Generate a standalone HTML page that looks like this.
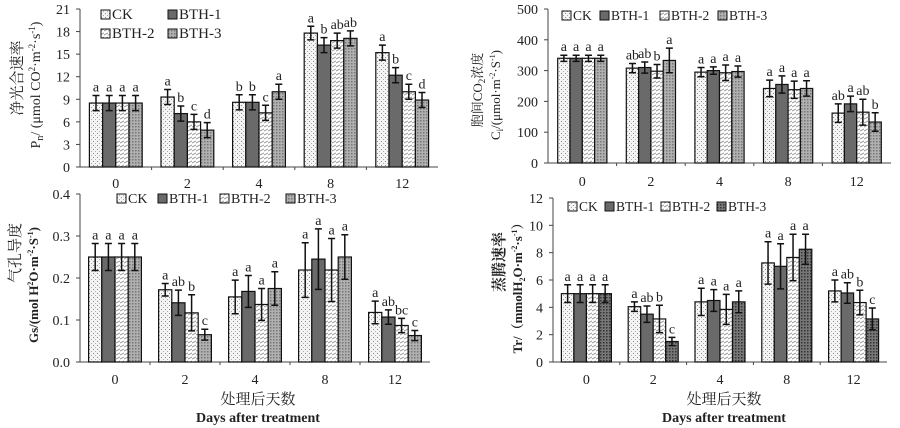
<!DOCTYPE html>
<html><head><meta charset="utf-8">
<style>
html,body{margin:0;padding:0;background:#fff;}
svg{display:block;font-family:"Liberation Serif","Noto Serif CJK SC",serif;}
</style></head>
<body>
<svg id="chart" width="900" height="428" viewBox="0 0 900 428" xmlns="http://www.w3.org/2000/svg">
<defs>
<pattern id="pDots" width="4" height="4" patternUnits="userSpaceOnUse"><rect width="4" height="4" fill="#f4f4f4"/><rect x="1" y="1" width="1" height="1" fill="#888"/><rect x="3" y="3" width="1" height="1" fill="#aaa"/></pattern>
<pattern id="pDark" width="4" height="4" patternUnits="userSpaceOnUse"><rect width="4" height="4" fill="#6a6a6a"/></pattern>
<pattern id="pStripe" width="4" height="4" patternUnits="userSpaceOnUse"><rect width="4" height="4" fill="#fff"/><path d="M0 3 L4 1" stroke="#999" stroke-width="1"/></pattern>
<pattern id="pCross" width="3" height="3" patternUnits="userSpaceOnUse"><rect width="3" height="3" fill="#b0b0b0"/><rect x="0" y="0" width="1.5" height="1.5" fill="#777"/></pattern>
<pattern id="pCrossDark" width="3" height="3" patternUnits="userSpaceOnUse"><rect width="3" height="3" fill="#777"/><rect x="0" y="0" width="1.5" height="1.5" fill="#333"/></pattern>
</defs>
</svg>
<script>
const categories = ["0","2","4","8","12"];
const seriesNames = ["CK","BTH-1","BTH-2","BTH-3"];
// Panel A: Pn
const pnValues = [[8.5,8.5,8.5,8.5],[9.3,7.1,6.0,4.9],[8.6,8.6,7.2,10.0],[17.8,16.2,16.8,17.1],[15.2,12.2,10.0,8.9]];
const pnErrors = [[1,1,1,1],[1,1,1,1],[1,1,1,1],[0.9,1,1,1],[1,1,1,1]];
const pnLetters = [["a","a","a","a"],["a","b","c","d"],["b","b","c","a"],["a","b","ab","ab"],["a","b","c","d"]];
const pnTicks = ["0","3","6","9","12","15","18","21"];
// Panel B: Ci
const ciValues = [[340,340,340,340],[308,310,298,333],[295,300,293,297],[242,255,238,242],[162,192,165,133]];
const ciErrors = [[10,10,10,10],[15,18,22,40],[15,12,25,18],[27,28,28,25],[30,25,42,30]];
const ciLetters = [["a","a","a","a"],["ab","ab","b","a"],["a","a","a","a"],["a","a","a","a"],["ab","a","ab","b"]];
const ciTicks = ["0","100","200","300","400","500"];
// Panel C: Gs
const gsValues = [[0.25,0.25,0.25,0.25],[0.172,0.141,0.117,0.065],[0.155,0.168,0.137,0.175],[0.219,0.245,0.219,0.25],[0.118,0.107,0.087,0.063]];
const gsErrors = [[0.032,0.032,0.032,0.032],[0.015,0.03,0.043,0.013],[0.04,0.038,0.038,0.04],[0.065,0.072,0.075,0.053],[0.027,0.017,0.017,0.012]];
const gsLetters = [["a","a","a","a"],["a","ab","b","c"],["a","a","a","a"],["a","a","a","a"],["a","ab","bc","c"]];
const gsTicks = ["0.0","0.1","0.2","0.3","0.4"];
// Panel D: Tr
const trValues = [[5,5,5,5],[4.05,3.5,3.15,1.5],[4.4,4.5,3.85,4.4],[7.25,7.0,7.65,8.25],[5.2,5.05,4.35,3.15]];
const trErrors = [[0.65,0.65,0.65,0.65],[0.35,0.6,1.0,0.3],[1.0,0.8,1.1,0.8],[1.55,1.65,1.7,1.1],[0.8,0.75,0.9,0.8]];
const trLetters = [["a","a","a","a"],["a","ab","b","c"],["a","a","a","a"],["a","a","a","a"],["a","ab","b","c"]];
const trTicks = ["0","2","4","6","8","10","12"];

const svg = document.getElementById('chart');
const NS = "http://www.w3.org/2000/svg";
function mk(tag, attrs, parent, text){
  const e = document.createElementNS(NS, tag);
  for (const k in attrs) e.setAttribute(k, attrs[k]);
  if (text !== undefined) e.textContent = text;
  (parent||svg).appendChild(e);
  return e;
}

function panel(o){
  const g = mk('g', {});
  
  
  const ymax = parseFloat(o.ticks[o.ticks.length-1]);
  const yS = v => o.y0 - (v/ymax)*(o.y0-o.y1);
  const step = (o.xR - o.xL)/categories.length;
  const xC = i => o.xL + step*(i+0.5);
  const ax = mk('line',{x1:o.xL,y1:o.y1,x2:o.xL,y2:o.y0,stroke:'#444','stroke-width':1},g);
  
  
  const xa = mk('line',{x1:o.xL,y1:o.y0,x2:o.xR,y2:o.y0,stroke:'#444','stroke-width':1},g);
  
  
  o.ticks.forEach(t=>{
    const y = yS(parseFloat(t));
    mk('line',{x1:o.xL-4,y1:y,x2:o.xL,y2:y,stroke:'#444'},g);
    const tl = mk('text',{x:o.xL-10,y:y+5,'text-anchor':'end','font-size':14,fill:'#222'},g,t);
    
    
  });
  for(let i=1;i<categories.length;i++){
    const x=o.xL+step*i;
    mk('line',{x1:x,y1:o.y0,x2:x,y2:o.y0+3,stroke:'#444'},g);
  }
  categories.forEach((c,i)=>{
    const tl = mk('text',{x:xC(i),y:o.xlabY,'text-anchor':'middle','font-size':14,fill:'#222'},g,c);
    
    
  });
  const fills = o.fills;
  o.values.forEach((grp,i)=>{
    grp.forEach((v,j)=>{
      const x = xC(i) - 2*o.bw + j*o.bw;
      const y = yS(v);
      const r = mk('rect',{x:x,y:y,width:o.bw,height:o.y0-y,fill:fills[j],stroke:'#111','stroke-width':1.2},g);
      
      
      const e = o.errors[i][j];
      const cx = x+o.bw/2, yt=yS(v+e), yb=yS(v-e);
      const eb = mk('path',{d:`M${cx} ${yt}V${yb}M${cx-3.5} ${yt}H${cx+3.5}M${cx-3.5} ${yb}H${cx+3.5}`,stroke:'#111','stroke-width':1.5,fill:'none'},g);
      
      
      const lt = mk('text',{x:cx,y:yt-4,'text-anchor':'middle','font-size':14,fill:'#222'},g,o.letters[i][j]);
      
      
    });
  });
  o.legend.forEach((p,j)=>{
    const lg = mk('g',{},g);
    
    
    mk('rect',{x:p[0],y:p[1]-9,width:9,height:9,fill:fills[j],stroke:'#111','stroke-width':1},lg);
    mk('text',{x:p[0]+11,y:p[1],'font-size':o.lfs||15,fill:'#222'},lg,seriesNames[j]);
  });
  o.ytitles.forEach(t=>{
    const tt = mk('text',{x:0,y:0,'text-anchor':'middle','font-size':t.fs||14,'font-weight':t.bold?'bold':'normal',fill:'#222',transform:`translate(${t.x},${t.y}) rotate(-90)`},g);
    tt.innerHTML = t.html;
    
    
  });
}

const F1 = ['url(#pDots)','url(#pDark)','url(#pStripe)','url(#pCross)'];
const F2 = ['url(#pDots)','url(#pDark)','url(#pStripe)','url(#pCrossDark)'];

panel({name:'panel-pn',xL:80,xR:438,y0:167,y1:9,bw:13.2,ticks:pnTicks,values:pnValues,errors:pnErrors,letters:pnLetters,xlabY:188,fills:F1,
  legend:[[101,19],[168,19],[101,38],[168,38]],
  ytitles:[{x:22,y:78,html:'净光合速率',fs:15},{x:40,y:85,html:'P<tspan font-size="10" dy="3">n</tspan><tspan dy="-3">/ (μmol CO</tspan><tspan font-size="9" dy="-5">2</tspan><tspan dy="5">·m</tspan><tspan font-size="9" dy="-5">-2</tspan><tspan dy="5">·s</tspan><tspan font-size="9" dy="-5">-1</tspan><tspan dy="5">)</tspan>'}]});

panel({name:'panel-ci',xL:548,xR:891,y0:163,y1:9,bw:12.3,ticks:ciTicks,values:ciValues,errors:ciErrors,letters:ciLetters,xlabY:186,fills:F1,lfs:13.5,
  legend:[[562,20],[600,20],[660,20],[718,20]],
  ytitles:[{x:482,y:90,html:'胞间CO<tspan font-size="9" dy="3">2</tspan><tspan dy="-3">浓度</tspan>',fs:13},{x:500,y:95,html:'C<tspan font-size="9" dy="3">i</tspan><tspan dy="-3">/(μmol·m</tspan><tspan font-size="8" dy="-5">-2</tspan><tspan dy="5">·S</tspan><tspan font-size="8" dy="-5">-1</tspan><tspan dy="5">)</tspan>',fs:13}]});

panel({name:'panel-gs',xL:80,xR:430,y0:362,y1:194,bw:13.2,ticks:gsTicks,values:gsValues,errors:gsErrors,letters:gsLetters,xlabY:384,fills:F1,lfs:14,
  legend:[[117,203],[158,203],[220,203],[286,203]],
  ytitles:[{x:20,y:253,html:'气孔导度',fs:15},{x:38,y:285,bold:true,fs:13,html:'Gs/(mol H<tspan font-size="8" dy="-5">2</tspan><tspan dy="5">O·m</tspan><tspan font-size="8" dy="-5">-2</tspan><tspan dy="5">·S</tspan><tspan font-size="8" dy="-5">-1</tspan><tspan dy="5">)</tspan>'}]});

panel({name:'panel-tr',xL:553,xR:887,y0:362,y1:198,bw:12.5,ticks:trTicks,values:trValues,errors:trErrors,letters:trLetters,xlabY:384,fills:F2,lfs:13.5,
  legend:[[568,211],[605,211],[661,211],[717,211]],
  ytitles:[{x:504,y:262,html:'蒸腾速率',fs:15,bold:true},{x:522,y:285,bold:true,fs:13,html:'Tr/（mmolH<tspan font-size="8" dy="3">2</tspan><tspan dy="-3">O·m</tspan><tspan font-size="8" dy="-5">-2</tspan><tspan dy="5">·s</tspan><tspan font-size="8" dy="-5">-1</tspan><tspan dy="5">）</tspan>'}]});

[[258],[724]].forEach(p=>{
  const a = mk('text',{x:p[0],y:404,'text-anchor':'middle','font-size':15,fill:'#222'},svg,'处理后天数');
  
  
  const b = mk('text',{x:p[0],y:422,'text-anchor':'middle','font-size':14,'font-weight':'bold',fill:'#222'},svg,'Days after treatment');
  
  
});
</script>
</body></html>
